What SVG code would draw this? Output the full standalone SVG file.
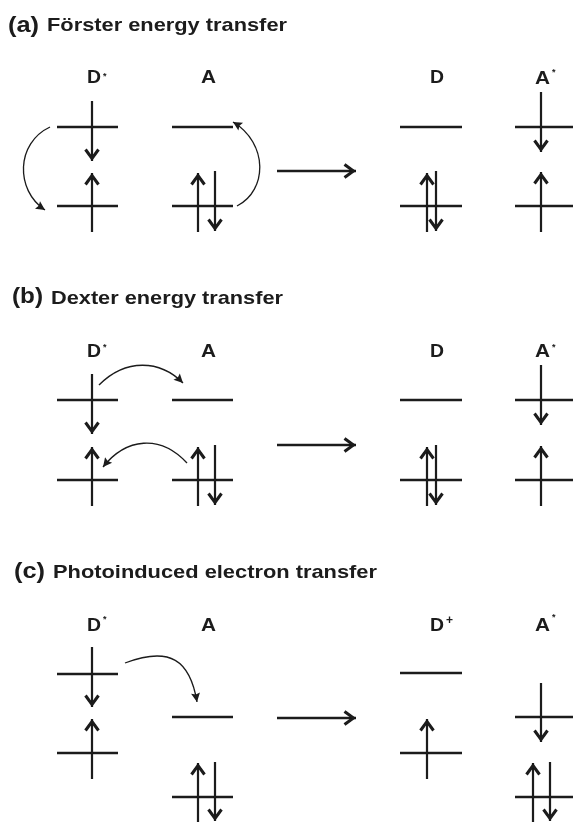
<svg xmlns="http://www.w3.org/2000/svg" width="573" height="822" viewBox="0 0 573 822">
<style>
text{font-family:"Liberation Sans",Arial,sans-serif;font-weight:700;fill:#1a1a1a}
.p{font-size:22px}.t{font-size:19px}.l{font-size:18px}.s{font-size:9px}.pl{font-size:12px}
.lv{stroke:#1a1a1a;stroke-width:2.5;fill:none}
.sp{stroke:#1a1a1a;stroke-width:2.2;fill:none;marker-end:url(#chev)}
.big{stroke:#1a1a1a;stroke-width:2.4;fill:none;marker-end:url(#chev)}
.cv{stroke:#1a1a1a;stroke-width:1.3;fill:none;marker-end:url(#tri)}
</style>
<defs>
<marker id="chev" markerUnits="userSpaceOnUse" markerWidth="14" markerHeight="16" refX="11.5" refY="7" orient="auto" overflow="visible"><path d="M0 0.5L9 7L0 13.5" fill="none" stroke="#1a1a1a" stroke-width="3"/></marker>
<marker id="tri" markerUnits="userSpaceOnUse" markerWidth="10" markerHeight="10" refX="9" refY="4.5" orient="auto" overflow="visible"><path d="M0 0L9 4.5L0 9L1.5 4.5Z" fill="#1a1a1a"/></marker>
<filter id="soft" x="0" y="0" width="573" height="822" filterUnits="userSpaceOnUse"><feGaussianBlur stdDeviation="0.45"/></filter>
</defs>
<rect width="573" height="822" fill="#fff"/>
<g filter="url(#soft)">
<text class="p" x="8" y="32" textLength="31" lengthAdjust="spacingAndGlyphs">(a)</text><text class="t" x="47" y="31" textLength="240" lengthAdjust="spacingAndGlyphs">Förster energy transfer</text>
<text class="p" x="12" y="303" textLength="31" lengthAdjust="spacingAndGlyphs">(b)</text><text class="t" x="51" y="304" textLength="232" lengthAdjust="spacingAndGlyphs">Dexter energy transfer</text>
<text class="p" x="14" y="578" textLength="31" lengthAdjust="spacingAndGlyphs">(c)</text><text class="t" x="53" y="578" textLength="324" lengthAdjust="spacingAndGlyphs">Photoinduced electron transfer</text>

<g id="a-donor"><text class="l" x="87" y="83" textLength="14" lengthAdjust="spacingAndGlyphs">D</text><text class="s" x="103" y="78.5">*</text>
<path class="lv" d="M57 127H118M57 206H118"/><path class="sp" d="M92 101V161"/><path class="sp" d="M92 232V173"/></g>
<g id="a-acceptor"><text class="l" x="201" y="83" textLength="15" lengthAdjust="spacingAndGlyphs">A</text>
<path class="lv" d="M172 127H233M172 206H233"/><path class="sp" d="M198 232V173"/><path class="sp" d="M215 171V231"/></g>
<g id="a-donor-after"><text class="l" x="430" y="83" textLength="14" lengthAdjust="spacingAndGlyphs">D</text>
<path class="lv" d="M400 127H462M400 206H462"/><path class="sp" d="M427 232V173"/><path class="sp" d="M436 171V231"/></g>
<g id="a-acceptor-after"><text class="l" x="535" y="84" textLength="15" lengthAdjust="spacingAndGlyphs">A</text><text class="s" x="552" y="75">*</text>
<path class="lv" d="M515 127H573M515 206H573"/><path class="sp" d="M541 92V152"/><path class="sp" d="M541 232V172"/></g>

<g id="b-donor"><text class="l" x="87" y="357" textLength="14" lengthAdjust="spacingAndGlyphs">D</text><text class="s" x="103" y="349.5">*</text>
<path class="lv" d="M57 400H118M57 480H118"/><path class="sp" d="M92 374V434"/><path class="sp" d="M92 506V447"/></g>
<g id="b-acceptor"><text class="l" x="201" y="357" textLength="15" lengthAdjust="spacingAndGlyphs">A</text>
<path class="lv" d="M172 400H233M172 480H233"/><path class="sp" d="M198 506V447"/><path class="sp" d="M215 445V505"/></g>
<g id="b-donor-after"><text class="l" x="430" y="357" textLength="14" lengthAdjust="spacingAndGlyphs">D</text>
<path class="lv" d="M400 400H462M400 480H462"/><path class="sp" d="M427 506V447"/><path class="sp" d="M436 445V505"/></g>
<g id="b-acceptor-after"><text class="l" x="535" y="357" textLength="15" lengthAdjust="spacingAndGlyphs">A</text><text class="s" x="552" y="349.5">*</text>
<path class="lv" d="M515 400H573M515 480H573"/><path class="sp" d="M541 365V425"/><path class="sp" d="M541 506V446"/></g>

<g id="c-donor"><text class="l" x="87" y="631" textLength="14" lengthAdjust="spacingAndGlyphs">D</text><text class="s" x="103" y="622">*</text>
<path class="lv" d="M57 674H118M57 753H118"/><path class="sp" d="M92 647V707"/><path class="sp" d="M92 779V719"/></g>
<g id="c-acceptor"><text class="l" x="201" y="631" textLength="15" lengthAdjust="spacingAndGlyphs">A</text>
<path class="lv" d="M172 717H233M172 797H233"/><path class="sp" d="M198 830V763"/><path class="sp" d="M215 762V821"/></g>
<g id="c-donor-after"><text class="l" x="430" y="631" textLength="14" lengthAdjust="spacingAndGlyphs">D</text><text class="pl" x="446" y="624">+</text>
<path class="lv" d="M400 673H462M400 753H462"/><path class="sp" d="M427 779V719"/></g>
<g id="c-acceptor-after"><text class="l" x="535" y="631" textLength="15" lengthAdjust="spacingAndGlyphs">A</text><text class="s" x="552" y="620">*</text>
<path class="lv" d="M515 717H573M515 797H573"/><path class="sp" d="M541 683V742"/><path class="sp" d="M533 830V763"/><path class="sp" d="M550 762V821"/></g>

<g id="connectors">
<path class="big" d="M277 171H356"/><path class="big" d="M277 445H356"/><path class="big" d="M277 718H356"/>
<path class="cv" d="M50 127C16 143 15 190 45 210"/>
<path class="cv" d="M237 206C268 190 268 143 233 122"/>
<path class="cv" d="M99 385C126 358 160 360 183 383"/>
<path class="cv" d="M187 463C160 434 126 438 103 467"/>
<path class="cv" d="M125 663C170 646 190 660 197 702"/>
</g>
</g>
</svg>
